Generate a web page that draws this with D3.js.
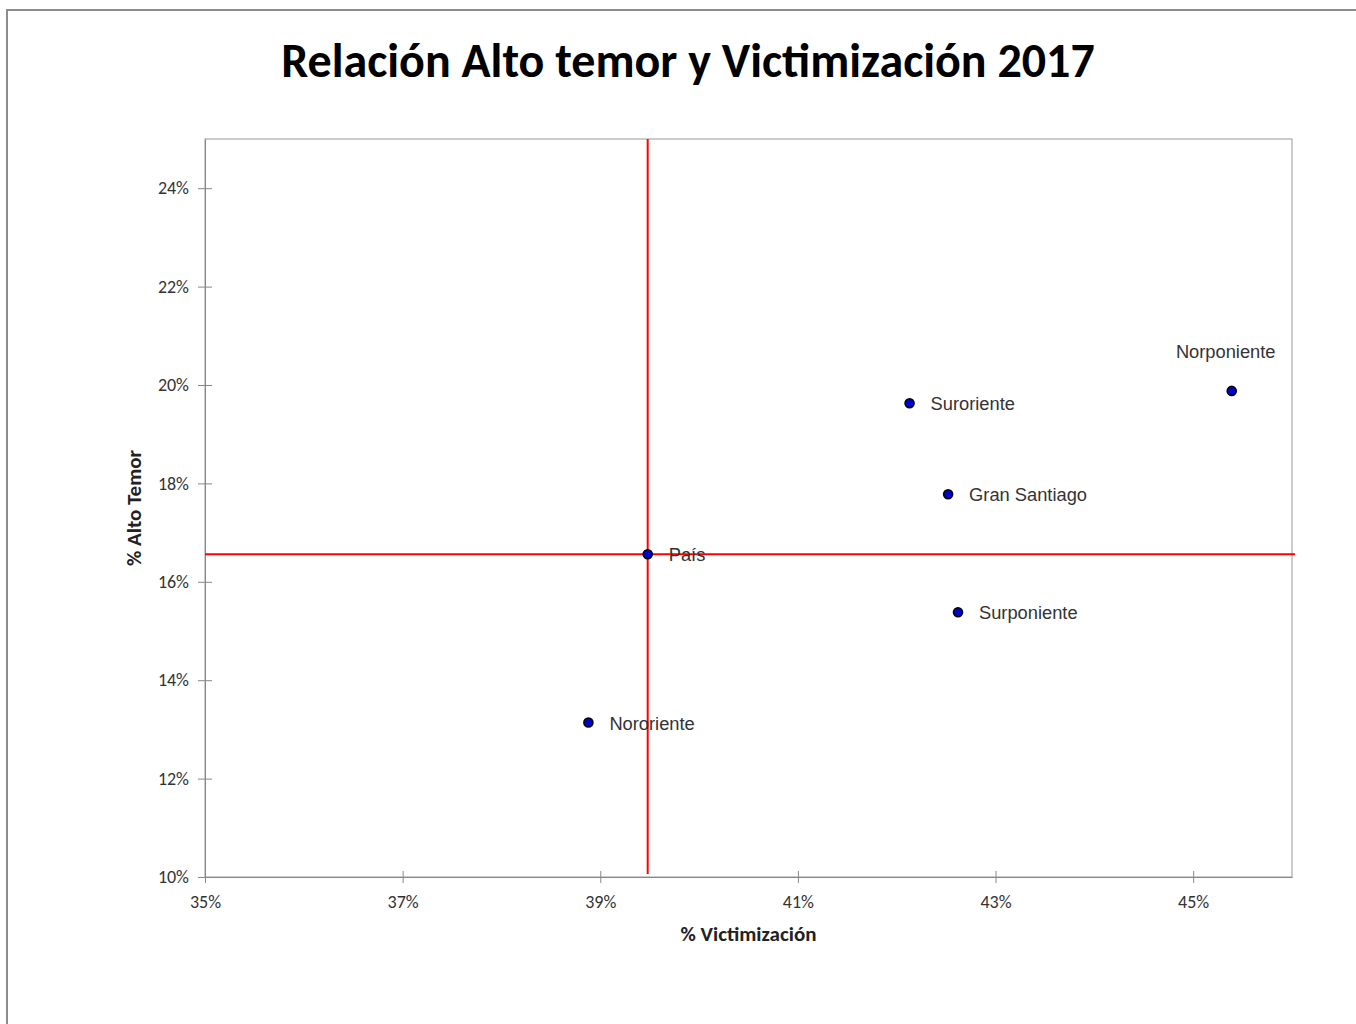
<!DOCTYPE html>
<html>
<head>
<meta charset="utf-8">
<script src="https://cdn.jsdelivr.net/npm/d3@7"></script>
<style>
  body { margin: 0; background: #fff; }
</style>
</head>
<body>
<div id="chart-area"></div>
<script>
// data
var regions = ["Norponiente", "Suroriente", "Gran Santiago", "País", "Surponiente", "Nororiente"];
var victimizacion = [45.39, 42.13, 42.52, 39.48, 42.62, 38.88];
var altoTemor = [19.88, 19.63, 17.78, 16.56, 15.38, 13.14];
var labelAbove = [true, false, false, false, false, false];
var xTicks = [35, 37, 39, 41, 43, 45];
var yTicks = [10, 12, 14, 16, 18, 20, 22, 24];
var reference = "País";

var W = 1356, H = 1024;
var margin = { top: 139, right: 64, bottom: 147, left: 205 };
var width = W - margin.left - margin.right;
var height = H - margin.top - margin.bottom;

var calibri = "Carlito, Calibri, Lato, sans-serif";
var arial = "'Liberation Sans', Arial, sans-serif";

var svg = d3.select("#chart-area")
    .append("svg")
    .attr("width", W)
    .attr("height", H);

// outer chart frame (only top and left edges visible)
svg.append("path")
    .attr("d", `M7,${H + 5} V10 H${W + 5}`)
    .attr("fill", "none")
    .attr("stroke", "#8c8c8c")
    .attr("stroke-width", 2);

svg.append("text")
    .attr("x", 688)
    .attr("y", 77)
    .attr("text-anchor", "middle")
    .attr("font-family", calibri)
    .attr("font-size", "48px")
    .attr("font-weight", "bold")
    .attr("fill", "#000")
    .text("Relación Alto temor y Victimización 2017");

var g = svg.append("g")
    .attr("transform", `translate(${margin.left}, ${margin.top})`);

var x = d3.scaleLinear().domain([35, 46]).range([0, width]);
var y = d3.scaleLinear().domain([10, 25]).range([height, 0]);

g.append("rect")
    .attr("width", width)
    .attr("height", height)
    .attr("fill", "none")
    .attr("stroke", "#999")
    .attr("stroke-width", 1);

var xAxis = g.append("g")
    .attr("transform", `translate(0, ${height})`)
    .call(d3.axisBottom(x).tickValues(xTicks).tickSize(6).tickSizeOuter(0).tickFormat(d => d + "%"));
xAxis.select(".domain").attr("stroke", "#888");
xAxis.selectAll(".tick line").attr("stroke", "#888").attr("y1", -6);
xAxis.selectAll("text")
    .attr("y", 18)
    .attr("font-family", calibri)
    .attr("font-size", "18px")
    .attr("fill", "#333");

var yAxis = g.append("g")
    .call(d3.axisLeft(y).tickValues(yTicks).tickSize(7).tickSizeOuter(0).tickFormat(d => d + "%"));
yAxis.select(".domain").attr("stroke", "#888");
yAxis.selectAll(".tick line").attr("stroke", "#888").attr("x1", 7).attr("x2", -7);
yAxis.selectAll("text")
    .attr("x", -16)
    .attr("font-family", calibri)
    .attr("font-size", "18px")
    .attr("fill", "#333");

g.append("text")
    .attr("x", width / 2)
    .attr("y", height + 64)
    .attr("text-anchor", "middle")
    .attr("font-family", calibri)
    .attr("font-size", "21px")
    .attr("font-weight", "bold")
    .attr("fill", "#222")
    .text("% Victimización");

g.append("text")
    .attr("transform", "rotate(-90)")
    .attr("x", -height / 2)
    .attr("y", -64)
    .attr("text-anchor", "middle")
    .attr("font-family", calibri)
    .attr("font-size", "21px")
    .attr("font-weight", "bold")
    .attr("fill", "#222")
    .text("% Alto Temor");

var data = regions.map((r, i) => ({
    name: r,
    vx: victimizacion[i],
    vy: altoTemor[i],
    above: labelAbove[i]
}));

// reference lines through the country value
var ref = data.find(d => d.name === reference);
g.append("line")
    .attr("x1", x(ref.vx)).attr("x2", x(ref.vx))
    .attr("y1", 0).attr("y2", height - 3)
    .attr("stroke", "#ff0000")
    .attr("stroke-width", 2);
g.append("line")
    .attr("x1", 0).attr("x2", width + 3)
    .attr("y1", y(ref.vy)).attr("y2", y(ref.vy))
    .attr("stroke", "#ff0000")
    .attr("stroke-width", 2);

g.selectAll(".dot")
    .data(data)
    .enter()
    .append("circle")
    .attr("class", "dot")
    .attr("cx", d => x(d.vx))
    .attr("cy", d => y(d.vy))
    .attr("r", 4.5)
    .attr("fill", "#0000cc")
    .attr("stroke", "#000")
    .attr("stroke-width", 1.6);

g.selectAll(".point-label")
    .data(data)
    .enter()
    .append("text")
    .attr("class", "point-label")
    .attr("x", d => d.above ? x(d.vx) - 6 : x(d.vx) + 21)
    .attr("y", d => d.above ? y(d.vy) - 33 : y(d.vy) + 7)
    .attr("text-anchor", d => d.above ? "middle" : "start")
    .attr("font-family", arial)
    .attr("font-size", "18.3px")
    .attr("fill", "#333")
    .text(d => d.name);
</script>
</body>
</html>
